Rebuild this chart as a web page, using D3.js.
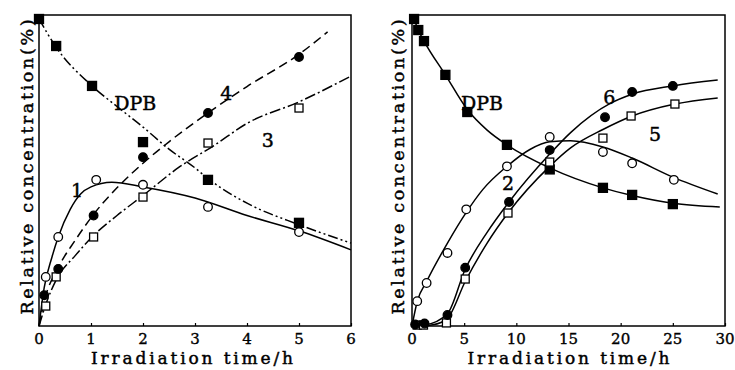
<!DOCTYPE html>
<html>
<head>
<meta charset="utf-8">
<script src="https://d3js.org/d3.v7.min.js"></script>
<style>
	body { margin: 0; background: #fff; }
	text { font-family: "DejaVu Serif", "Liberation Serif", serif; fill: #000; }
	.axis-label, .curve-label { stroke: #000; stroke-width: 0.45; }
	.tick-label { stroke: #000; stroke-width: 0.35; }
</style>
</head>
<body>
<div id="chart"></div>
<script>
//Left panel (0 - 6 h): measured points [time, %]
var leftTicks = [0, 1, 2, 3, 4, 5, 6];
var leftDpbPts = [[0, 100], [0.33, 91.2], [1.02, 78.2], [2, 59.9], [3.25, 47.6], [5, 33.6]];
var left1Pts = [[0.13, 16], [0.37, 29], [1.1, 47.6], [2, 46], [3.25, 38.8], [5, 30.6]];
var left3Pts = [[0.13, 6.5], [0.33, 16], [1.05, 29], [2, 42], [3.25, 59.6], [5, 71]];
var left4Pts = [[0.1, 10], [0.37, 18.6], [1.05, 36], [2, 55], [3.25, 69.4], [5, 87.6]];

//Left panel fitted curves
var leftDpbFit = [[0, 100], [0.33, 90.8], [1, 78.5], [1.5, 71.5], [2, 64.8], [2.5, 57.6], [3, 51.5], [3.25, 48], [3.5, 45], [4, 40], [5, 33], [6, 27]];
var left1Fit = [[0, 0], [0.1, 12.5], [0.25, 22.5], [0.37, 29], [0.6, 38], [0.8, 43], [1, 45.3], [1.4, 46.8], [2, 45.3], [3, 41.7], [4, 36], [5, 31], [6, 24.8]];
var left3Fit = [[0, 0], [0.13, 7], [0.33, 15], [0.7, 23], [1.05, 29.5], [1.5, 36], [2, 42.5], [2.7, 51.8], [3.35, 58.6], [4, 66], [5, 73], [6, 81.4]];
var left4Fit = [[0, 0], [0.1, 8], [0.37, 19], [0.7, 28], [1.08, 37], [1.5, 45], [2, 53], [2.5, 60], [3.3, 70], [4, 78], [5, 88.5], [5.55, 95.8]];

//Right panel (0 - 30 h): measured points [time, %]
var rightTicks = [0, 5, 10, 15, 20, 25, 30];
var rightDpbPts = [[0.2, 100], [0.6, 96.4], [1.15, 92.8], [3.2, 81.8], [5.3, 69.7], [9.1, 59], [13.2, 51], [18.3, 45], [21.1, 42.7], [25, 39.7]];
var right2Pts = [[0.5, 8.1], [1.4, 14], [3.4, 23.8], [5.2, 38], [9.1, 52], [13.2, 61.6], [18.3, 56.7], [21.1, 53], [25.1, 47.6]];
var right5Pts = [[0.5, 0.3], [1.1, 0.3], [3.3, 1], [5.1, 15.3], [9.2, 36.8], [13.2, 53.4], [18.3, 61.2], [21, 68.4], [25.2, 72.3]];
var right6Pts = [[0.3, 0.5], [1.2, 0.8], [3.4, 3.6], [5.1, 19], [9.3, 40.4], [13.2, 57.3], [18.5, 68], [21.1, 76.2], [25, 78.2]];

//Right panel fitted curves
var rightDpbFit = [[0.2, 100], [0.6, 96.4], [1.15, 92.8], [3.2, 81.8], [5.3, 70.5], [7.2, 63.8], [9.1, 59], [13.2, 51.5], [18.3, 45], [21.1, 42.5], [25, 40], [29.5, 38.8]];
var right2Fit = [[0, 0], [0.5, 8], [1.4, 14.5], [3.4, 27], [5.2, 37], [6.8, 44.5], [9.1, 52], [11.3, 57.5], [13.2, 60], [15.2, 60.3], [18.3, 58.3], [21.1, 54.7], [25, 48.5], [29.3, 43]];
var right5Fit = [[0.5, 0], [2, 0.4], [3.4, 2.5], [5.1, 14.5], [7.2, 27], [9.2, 36.8], [13.2, 52], [15.2, 58], [18.3, 64], [21.1, 68.4], [25.2, 72.3], [29.3, 74.3]];
var right6Fit = [[0, 0], [1.2, 0.3], [3.4, 4], [5.1, 18.5], [7.2, 30.5], [9.3, 40.4], [13.2, 56], [15.2, 63], [19, 72.5], [21.1, 75.5], [25, 78.2], [29.3, 80.1]];

//Curve labels [time, %, text]
var leftLabels = [[1.85, 72.5, "DPB"], [3.6, 76, "4"], [4.4, 60.5, "3"], [0.73, 44.3, "1"]];
var rightLabels = [[6.7, 72.5, "DPB"], [18.9, 74.5, "6"], [23.3, 62.5, "5"], [9.2, 46.5, "2"]];

var yTop = 101.3;

var width = 735;
var height = 370;

var svg = d3.select("#chart")
	.append("svg")
	.attr("width", width)
	.attr("height", height);

//Markers
var drawMarks = function(g, x, y, pts, type) {
	pts.forEach(function(p) {
		var cx = x(p[0]), cy = y(p[1]);
		if (type == "fsquare" || type == "osquare") {
			var s = type == "fsquare" ? 9 : 8;
			g.append("rect")
				.attr("x", cx - s / 2)
				.attr("y", cy - s / 2)
				.attr("width", s)
				.attr("height", s)
				.attr("fill", type == "fsquare" ? "#000" : "#fff")
				.attr("stroke", "#000")
				.attr("stroke-width", 1.3);
		} else {
			g.append("circle")
				.attr("cx", cx)
				.attr("cy", cy)
				.attr("r", 4.3)
				.attr("fill", type == "fcircle" ? "#000" : "#fff")
				.attr("stroke", "#000")
				.attr("stroke-width", 1.3);
		}
	});
};

var drawPanel = function(opt) {
	var x = d3.scaleLinear().domain(opt.xDomain).range(opt.xRange);
	var y = d3.scaleLinear().domain([0, yTop]).range([326, 15]);
	var g = svg.append("g");

	var line = d3.line()
		.x(function(d) { return x(d[0]); })
		.y(function(d) { return y(d[1]); })
		.curve(d3.curveMonotoneX);

	//Frame
	g.append("rect")
		.attr("x", x.range()[0])
		.attr("y", y.range()[1])
		.attr("width", x.range()[1] - x.range()[0])
		.attr("height", y.range()[0] - y.range()[1])
		.attr("fill", "none")
		.attr("stroke", "#000")
		.attr("stroke-width", 1.5);

	//Inward x ticks and labels
	g.append("g")
		.attr("transform", "translate(0," + y(0) + ")")
		.call(d3.axisTop(x).tickValues(opt.ticks).tickSize(3).tickFormat(""))
		.call(function(a) {
			a.select(".domain").remove();
			a.selectAll("line").attr("stroke", "#000").attr("stroke-width", 1.2);
		});
	g.selectAll(".tick-label")
		.data(opt.ticks)
		.enter()
		.append("text")
		.attr("class", "tick-label")
		.attr("x", function(d) { return x(d); })
		.attr("y", 344)
		.attr("text-anchor", "middle")
		.attr("font-size", 15)
		.text(function(d) { return d; });

	//Axis titles
	g.append("text")
		.attr("class", "axis-label")
		.attr("x", (x.range()[0] + x.range()[1]) / 2 + opt.titleShift)
		.attr("y", 364)
		.attr("text-anchor", "middle")
		.attr("font-size", 17)
		.attr("textLength", 202)
		.attr("lengthAdjust", "spacing")
		.text("Irradiation time/h");
	g.append("text")
		.attr("class", "axis-label")
		.attr("transform", "translate(" + (x.range()[0] - opt.yTitleGap) + "," + 167 + ") rotate(-90)")
		.attr("text-anchor", "middle")
		.attr("font-size", 17.5)
		.attr("textLength", 295)
		.attr("lengthAdjust", "spacing")
		.text("Relative concentration(%)");

	//Curves
	opt.series.forEach(function(s) {
		g.append("path")
			.datum(s.fit)
			.attr("d", line)
			.attr("fill", "none")
			.attr("stroke", "#000")
			.attr("stroke-width", 1.5)
			.attr("stroke-dasharray", s.dash);
	});
	opt.series.forEach(function(s) {
		drawMarks(g, x, y, s.pts, s.mark);
	});

	//Curve labels
	g.selectAll(".curve-label")
		.data(opt.labels)
		.enter()
		.append("text")
		.attr("class", "curve-label")
		.attr("x", function(d) { return x(d[0]); })
		.attr("y", function(d) { return y(d[1]) + 7; })
		.attr("text-anchor", "middle")
		.attr("font-size", 19)
		.text(function(d) { return d[2]; });
};

drawPanel({
	xDomain: [0, 6],
	xRange: [39, 351],
	ticks: leftTicks,
	titleShift: -3,
	yTitleGap: 6,
	labels: leftLabels,
	series: [
		{ fit: leftDpbFit, pts: leftDpbPts, mark: "fsquare", dash: "10,3,2,3,2,3" },
		{ fit: left1Fit, pts: left1Pts, mark: "ocircle", dash: null },
		{ fit: left3Fit, pts: left3Pts, mark: "osquare", dash: "11,3,2,3" },
		{ fit: left4Fit, pts: left4Pts, mark: "fcircle", dash: "9,5" }
	]
});

drawPanel({
	xDomain: [0, 30],
	xRange: [412, 725],
	ticks: rightTicks,
	titleShift: 0,
	yTitleGap: 8,
	labels: rightLabels,
	series: [
		{ fit: rightDpbFit, pts: rightDpbPts, mark: "fsquare", dash: null },
		{ fit: right2Fit, pts: right2Pts, mark: "ocircle", dash: null },
		{ fit: right5Fit, pts: right5Pts, mark: "osquare", dash: null },
		{ fit: right6Fit, pts: right6Pts, mark: "fcircle", dash: null }
	]
});
</script>
</body>
</html>
